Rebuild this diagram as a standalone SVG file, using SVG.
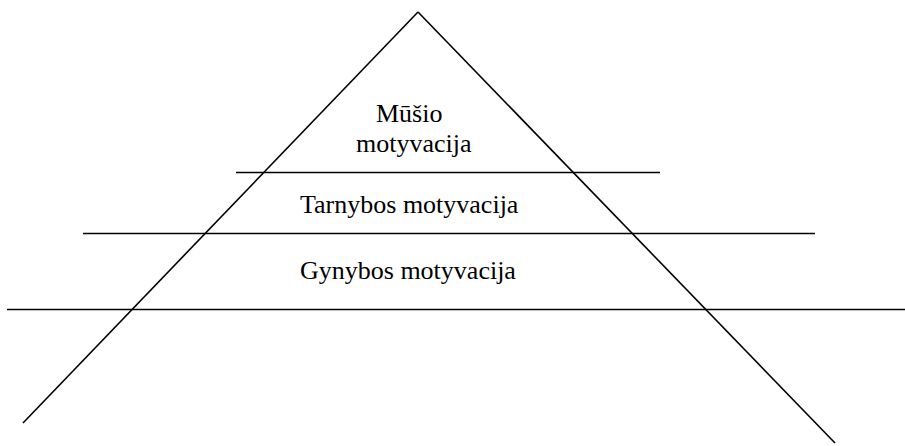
<svg xmlns="http://www.w3.org/2000/svg" width="905" height="446" viewBox="0 0 905 446">
  <style>
    .ln { stroke: #000; stroke-width: 1.6; fill: none; }
    .lbl { font-family: 'Liberation Serif', 'Times New Roman', Times, serif; font-size: 26px; fill: #000; }
  </style>
  <rect width="905" height="446" fill="#fff"/>
  <g id="connectors">
    <line class="ln" x1="418" y1="12" x2="23" y2="423"/>
    <line class="ln" x1="418" y1="12" x2="835" y2="443"/>
    <line class="ln" x1="236" y1="172.5" x2="660" y2="172.5"/>
    <line class="ln" x1="83" y1="233.5" x2="815" y2="233.5"/>
    <line class="ln" x1="7" y1="309.5" x2="905" y2="309.5"/>
  </g>
  <g id="musio">
    <text class="lbl" x="376" y="122" font-family="Liberation Serif, serif">Mūšio</text>
    <text class="lbl" x="356" y="152" font-family="Liberation Serif, serif">motyvacija</text>
  </g>
  <g id="tarnybos">
    <text class="lbl" x="300" y="213" font-family="Liberation Serif, serif">Tarnybos motyvacija</text>
  </g>
  <g id="gynybos">
    <text class="lbl" x="300" y="279" font-family="Liberation Serif, serif">Gynybos motyvacija</text>
  </g>
</svg>
